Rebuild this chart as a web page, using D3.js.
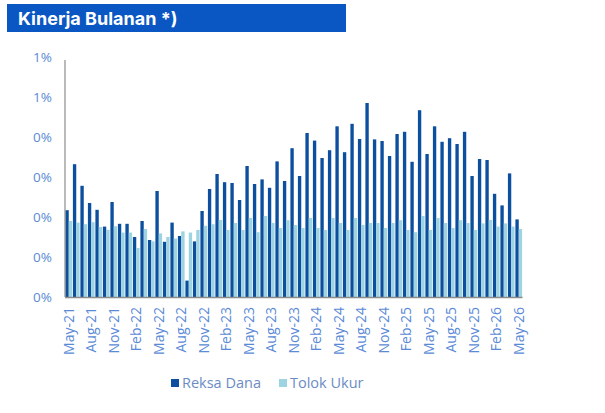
<!DOCTYPE html>
<html><head><meta charset="utf-8">
<script src="https://cdn.jsdelivr.net/npm/d3@7"></script>
<style>body{margin:0;background:#fff}svg{display:block}</style>
</head><body>
<svg id="c" width="605" height="413"></svg>
<script>
const months = ["May-21","Jun-21","Jul-21","Aug-21","Sep-21","Oct-21","Nov-21","Dec-21","Jan-22","Feb-22","Mar-22","Apr-22",
"May-22","Jun-22","Jul-22","Aug-22","Sep-22","Oct-22","Nov-22","Dec-22","Jan-23","Feb-23","Mar-23","Apr-23",
"May-23","Jun-23","Jul-23","Aug-23","Sep-23","Oct-23","Nov-23","Dec-23","Jan-24","Feb-24","Mar-24","Apr-24",
"May-24","Jun-24","Jul-24","Aug-24","Sep-24","Oct-24","Nov-24","Dec-24","Jan-25","Feb-25","Mar-25","Apr-25",
"May-25","Jun-25","Jul-25","Aug-25","Sep-25","Oct-25","Nov-25","Dec-25","Jan-26","Feb-26","Mar-26","Apr-26","May-26"];
const reksaDana = [0.217,0.332,0.278,0.235,0.218,0.176,0.2375,0.183,0.183,0.150,0.190,0.1425,
0.265,0.138,0.186,0.1525,0.041,0.139,0.215,0.270,0.3075,0.287,0.285,0.2425,
0.3275,0.2825,0.294,0.273,0.339,0.290,0.372,0.3025,0.410,0.391,0.3475,0.367,
0.4267,0.362,0.433,0.395,0.485,0.394,0.390,0.3525,0.4075,0.413,0.338,0.467,
0.3575,0.4267,0.388,0.397,0.3825,0.413,0.3025,0.345,0.3425,0.258,0.229,0.309,0.194];
const tolokUkur = [0.190,0.186,0.182,0.187,0.175,0.168,0.177,0.161,0.161,0.1225,0.170,0.139,
0.159,0.150,0.146,0.164,0.161,0.1675,0.178,0.182,0.1925,0.1675,0.185,0.1675,
0.1975,0.162,0.2025,0.185,0.1725,0.192,0.180,0.1725,0.1975,0.1725,0.1675,0.1975,
0.185,0.1675,0.1975,0.180,0.185,0.185,0.1725,0.185,0.192,0.1675,0.162,0.2025,
0.1675,0.1975,0.185,0.1725,0.192,0.185,0.1675,0.184,0.1925,0.176,0.184,0.176,0.170];
const yTicks = [0,0.1,0.2,0.3,0.4,0.5,0.6];
const seriesNames = ["Reksa Dana","Tolok Ukur"];
const colors = ["#0b4f9e","#9ed3e1"];

const svg = d3.select("#c");
const pLeft = 65, pRight = 522.5, pTop = 57, pBottom = 297;
const x = d3.scaleBand().domain(months).range([pLeft, pRight]).paddingInner(0).paddingOuter(0);
const y = d3.scaleLinear().domain([0,0.6]).range([pBottom, pTop]);
const inner = d3.scaleBand().domain(seriesNames).range([0, x.bandwidth()]).paddingOuter(0.12).paddingInner(0);
const labFont = "'Open Sans', Lato, sans-serif";

// title banner
svg.append("rect").attr("x",7).attr("y",4).attr("width",339).attr("height",28).attr("fill","#0a57c3");
svg.append("text").attr("x",18).attr("y",25).attr("fill","#fff")
  .attr("font-family","Inter, Roboto, sans-serif").attr("font-weight",700).attr("font-size",18)
  .text("Kinerja Bulanan *)");

// y axis labels (Excel-like rounding to whole percent)
const labColor = "#5a8ad6";
svg.append("g").selectAll("text").data(yTicks).join("text")
  .attr("x",52).attr("y",d=>y(d)).attr("dy","0.35em").attr("text-anchor","end")
  .attr("font-family",labFont).attr("font-size",13.5).attr("fill",labColor)
  .text(d=>Math.floor(d+0.5+1e-9)+"%");

// bars
const groups = svg.append("g").selectAll("g").data(months).join("g")
  .attr("transform",d=>`translate(${x(d)},0)`);
groups.selectAll("rect").data((d,i)=>[{s:0,v:reksaDana[i]},{s:1,v:tolokUkur[i]}]).join("rect")
  .attr("x",d=>inner(seriesNames[d.s]))
  .attr("width",d=>inner.bandwidth())
  .attr("y",d=>y(d.v)).attr("height",d=>pBottom-y(d.v))
  .attr("fill",d=>colors[d.s]);

// axes lines
svg.append("line").attr("x1",pLeft).attr("x2",pLeft).attr("y1",60).attr("y2",pBottom)
  .attr("stroke","#8c8c8c").attr("stroke-width",1.2);
svg.append("line").attr("x1",pLeft).attr("x2",pRight).attr("y1",pBottom+0.5).attr("y2",pBottom+0.5)
  .attr("stroke","#8c8c8c").attr("stroke-width",1.5);

// x labels
const xAxis = d3.axisBottom(x).tickValues(months.filter((d,i)=>i%3===0)).tickSize(0).tickPadding(0);
const gx = svg.append("g").attr("transform",`translate(0,${pBottom})`).call(xAxis);
gx.select(".domain").remove();
gx.selectAll("text").attr("transform","rotate(-90)").attr("x",-10).attr("y",0).attr("dy","0.35em")
  .attr("text-anchor","end").attr("font-family",labFont).attr("font-size",14).attr("fill",labColor);

// legend
const lg = svg.append("g").attr("font-family",labFont).attr("font-size",14.5);
const legX = [171, 279];
seriesNames.forEach((n,i)=>{
  lg.append("rect").attr("x",legX[i]).attr("y",379).attr("width",8).attr("height",8).attr("fill",colors[i]);
  lg.append("text").attr("x",legX[i]+11).attr("y",383).attr("dy","0.35em").attr("fill","#6b8cc4").text(n);
});
</script>
</body></html>
